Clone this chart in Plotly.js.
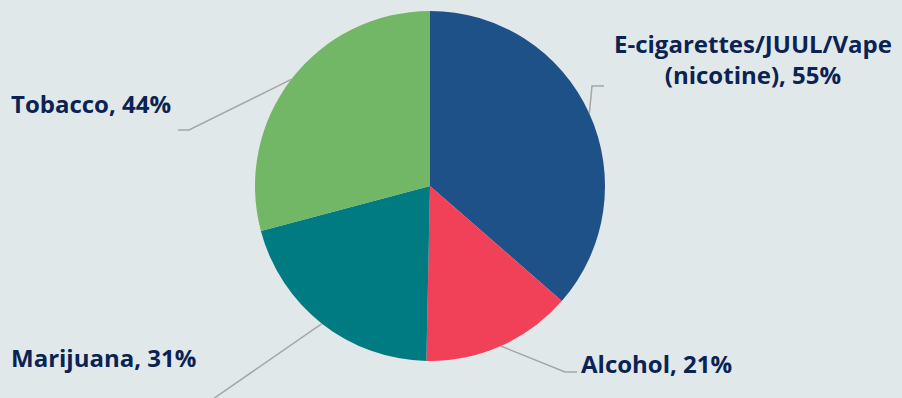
<!DOCTYPE html>
<html>
<head>
<meta charset="utf-8">
<script src="https://cdn.plot.ly/plotly-3.0.1.min.js"></script>
<style>html,body{margin:0;padding:0;background:#E1E8EA;}#chart{width:902px;height:398px;}</style>
</head>
<body>
<div id="chart"></div>
<script>
const categories = ["E-cigarettes/JUUL/Vape (nicotine)", "Alcohol", "Marijuana", "Tobacco"];
const labelLines = ["E-cigarettes/JUUL/Vape<br>(nicotine)", "Alcohol", "Marijuana", "Tobacco"];
const values = [55, 21, 31, 44];
const colors = ["#1F5189", "#F04158", "#007B82", "#72B765"];

const W = 902, H = 398;
const cx = 430, cy = 186, R = 175;
const px = x => x / W;
const py = y => 1 - y / H;

// layout of each label: elbow point, end of horizontal, text anchor position
const labelLayout = [
  {elbow: [592, 86], end: [604, 86], text: [753, 59], anchor: "center"},
  {elbow: [565, 372], end: [577, 372], text: [579, 363], anchor: "left"},
  {elbow: [200, 408], end: null, text: [9, 357], anchor: "left"},
  {elbow: [189, 130], end: [178, 130], text: [9, 103], anchor: "left"}
];

const total = values.reduce((a, b) => a + b, 0);
let acc = 0;
const shapes = [], annotations = [];
values.forEach((v, i) => {
  const mid = (acc + v / 2) / total * 2 * Math.PI;
  acc += v;
  const sx = cx + R * Math.sin(mid), sy = cy - R * Math.cos(mid);
  const L = labelLayout[i];
  let path = `M${px(sx)},${py(sy)} L${px(L.elbow[0])},${py(L.elbow[1])}`;
  if (L.end) path += ` L${px(L.end[0])},${py(L.end[1])}`;
  shapes.push({type: "path", xref: "paper", yref: "paper", path: path,
    line: {color: "#A6A6A6", width: 1.5}});
  annotations.push({
    xref: "paper", yref: "paper", x: px(L.text[0]), y: py(L.text[1]),
    xanchor: L.anchor, yanchor: "middle", align: "center", showarrow: false,
    text: "<b>" + labelLines[i] + ", " + v + "%</b>",
    font: {family: "Open Sans, sans-serif", size: 24, color: "#0A2352"}
  });
});

const data = [{
  type: "pie",
  labels: categories,
  values: values,
  sort: false,
  direction: "clockwise",
  rotation: 0,
  textinfo: "none",
  hoverinfo: "label+value",
  marker: {colors: colors, line: {width: 0}},
  domain: {x: [px(cx - R), px(cx + R)], y: [py(cy + R), py(cy - R)]},
  showlegend: false
}];

const layout = {
  width: W, height: H,
  margin: {l: 0, r: 0, t: 0, b: 0},
  paper_bgcolor: "#E1E8EA",
  plot_bgcolor: "#E1E8EA",
  shapes: shapes,
  annotations: annotations,
  showlegend: false
};

Plotly.newPlot("chart", data, layout, {displayModeBar: false, staticPlot: true});
</script>
</body>
</html>
